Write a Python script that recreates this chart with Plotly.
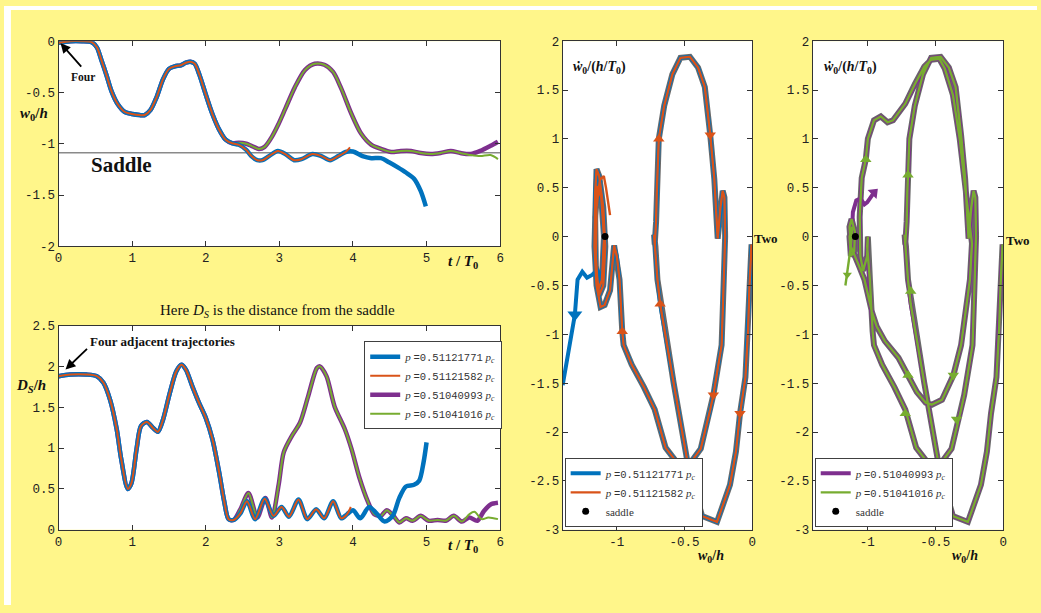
import plotly.graph_objects as go

W, H = 1041, 613
BLUE, ORANGE, PURPLE, GREEN = '#0072BD', '#D95319', '#7E2F8E', '#77AC30'
GRAY = '#6a6a6a'
YELLOW = '#FFF68A'

# ---------------- top-left: w0/h vs t/T0 ----------------
tw_common_t = [0, 0.16, 0.32, 0.45, 0.52, 0.58, 0.65, 0.72, 0.80, 0.90, 1.0, 1.1, 1.17, 1.25, 1.33, 1.42,
               1.50, 1.58, 1.66, 1.73, 1.79, 1.85, 1.91, 2.0, 2.09, 2.18, 2.27, 2.36]
tw_common_w = [-0.016, 0.0, 0.0, -0.01, -0.06, -0.18, -0.33, -0.49, -0.61, -0.69, -0.71, -0.72, -0.72, -0.67,
               -0.55, -0.37, -0.27, -0.245, -0.235, -0.21, -0.2, -0.22, -0.32, -0.52, -0.71, -0.86, -0.96, -0.995]
tw_low_t = [2.45, 2.55, 2.62, 2.70, 2.77, 2.86, 2.98, 3.08, 3.20, 3.30, 3.45, 3.57, 3.69, 3.80, 3.90]
tw_low_w = [-1.01, -1.06, -1.12, -1.16, -1.16, -1.12, -1.07, -1.10, -1.16, -1.15, -1.10, -1.12, -1.16, -1.12, -1.08]
tw_orange_tail_t = [3.96]
tw_orange_tail_w = [-1.035]
tw_blue_tail_t = [4.0, 4.13, 4.25, 4.38, 4.49, 4.61, 4.72, 4.83, 4.92, 4.99]
tw_blue_tail_w = [-1.075, -1.12, -1.14, -1.14, -1.18, -1.23, -1.28, -1.34, -1.46, -1.61]
tw_up_t = [2.45, 2.55, 2.62, 2.72, 2.80, 2.90, 2.98, 3.08, 3.21, 3.35, 3.48, 3.61, 3.73, 3.84, 3.98, 4.11,
           4.25, 4.38, 4.52, 4.65, 4.79, 4.92, 5.06, 5.19, 5.33, 5.46]
tw_up_w = [-0.99, -1.0, -1.02, -1.05, -1.03, -0.93, -0.82, -0.66, -0.45, -0.28, -0.22, -0.23, -0.30, -0.46,
           -0.71, -0.90, -1.01, -1.05, -1.08, -1.07, -1.07, -1.09, -1.10, -1.09, -1.07, -1.09]
tw_purple_tail_t = [5.6, 5.73, 5.87, 5.97]
tw_purple_tail_w = [-1.10, -1.07, -1.02, -0.98]
tw_green_tail_t = [5.6, 5.73, 5.87, 5.97]
tw_green_tail_w = [-1.11, -1.12, -1.11, -1.15]
saddle_w = -1.087
saddle_v = 0.0

# ---------------- bottom-left: D_S/h vs t/T0 ----------------
td_common_t = [0, 0.16, 0.38, 0.52, 0.61, 0.70, 0.79, 0.85, 0.94, 0.99, 1.06, 1.12, 1.20, 1.28, 1.35, 1.42,
               1.51, 1.60, 1.67, 1.73, 1.82, 1.91, 2.0, 2.09, 2.18, 2.25, 2.31, 2.38]
td_common_d = [1.88, 1.90, 1.90, 1.88, 1.80, 1.59, 1.23, 0.87, 0.50, 0.57, 0.99, 1.27, 1.32, 1.25, 1.20, 1.35,
               1.67, 1.94, 2.02, 1.96, 1.75, 1.55, 1.37, 1.11, 0.71, 0.35, 0.13, 0.12]
td_low_t = [2.47, 2.56, 2.67, 2.80, 2.92, 3.03, 3.13, 3.26, 3.38, 3.50, 3.61, 3.73, 3.84, 3.92]
td_low_d = [0.20, 0.35, 0.13, 0.38, 0.17, 0.28, 0.16, 0.37, 0.13, 0.25, 0.14, 0.35, 0.14, 0.19]
td_orange_tail_t = [3.97]
td_orange_tail_d = [0.28]
td_blue_tail_t = [4.0, 4.1, 4.22, 4.32, 4.43, 4.54, 4.63, 4.72, 4.83, 4.90, 4.96, 5.0]
td_blue_tail_d = [0.24, 0.14, 0.28, 0.20, 0.10, 0.17, 0.39, 0.53, 0.55, 0.60, 0.83, 1.07]
td_up_t = [2.47, 2.58, 2.70, 2.81, 2.90, 2.99, 3.06, 3.17, 3.28, 3.39, 3.51, 3.55, 3.64, 3.75, 3.89, 3.98,
           4.09, 4.20, 4.29, 4.38, 4.46, 4.55, 4.63, 4.72, 4.81, 4.92, 5.03, 5.15, 5.26, 5.37, 5.48]
td_up_d = [0.25, 0.45, 0.15, 0.39, 0.15, 0.55, 0.95, 1.15, 1.31, 1.63, 1.98, 2.0, 1.88, 1.51, 1.23, 0.99,
           0.63, 0.35, 0.19, 0.17, 0.24, 0.17, 0.09, 0.14, 0.11, 0.17, 0.11, 0.12, 0.11, 0.17, 0.10]
td_purple_tail_t = [5.58, 5.69, 5.78, 5.87, 5.97]
td_purple_tail_d = [0.15, 0.11, 0.23, 0.31, 0.33]
td_green_tail_t = [5.58, 5.65, 5.75, 5.84, 5.97]
td_green_tail_d = [0.19, 0.22, 0.13, 0.15, 0.13]

# ---------------- phase portraits ----------------
ph_first_w = [-0.005, -0.02, -0.03, -0.05, -0.09, -0.12, -0.164, -0.26, -0.37, -0.47,
              -0.58, -0.68, -0.70, -0.715, -0.725, -0.72, -0.71, -0.705, -0.69, -0.65,
              -0.59, -0.53, -0.46, -0.40, -0.35, -0.31, -0.28, -0.255, -0.235, -0.218,
              -0.205, -0.20, -0.21, -0.226, -0.287, -0.31, -0.38, -0.48, -0.54, -0.64,
              -0.72, -0.80, -0.89, -0.95, -0.96, -0.98]
ph_first_v = [-0.08, -0.5, -0.94, -1.44, -1.81, -2.2, -2.54, -2.92, -2.86, -2.37,
              -1.5, -0.69, -0.44, -0.1, 0.02, -0.08, 0.15, 0.46, 1.0, 1.34,
              1.66, 1.83, 1.84, 1.73, 1.53, 1.04, 0.59, -0.02, 0.3, 0.47,
              0.4, 0.0, -0.44, -1.11, -1.62, -1.77, -2.17, -2.36, -2.34, -2.16,
              -1.77, -1.54, -1.31, -1.11, -0.97, -0.44]
mid_spiral_w = [-1.00, -1.02, -1.05, -1.09, -1.12, -1.15, -1.165, -1.16, -1.15, -1.13,
                -1.10, -1.085, -1.10, -1.13, -1.155, -1.16, -1.14, -1.115, -1.095, -1.11]
mid_spiral_v = [-0.2, -0.09, -0.55, -0.7, -0.72, -0.5, -0.1, 0.45, 0.69, 0.62,
                0.3, -0.1, -0.5, -0.6, -0.3, 0.2, 0.52, 0.4, 0.0, -0.45]
mid_blue_tail_w = [-1.13, -1.145, -1.18, -1.22, -1.255, -1.29, -1.31, -1.40]
mid_blue_tail_v = [-0.38, -0.34, -0.39, -0.42, -0.36, -0.44, -0.8, -1.52]
mid_orange_tail_w = [-1.14, -1.155, -1.15, -1.125, -1.096, -1.08, -1.05]
mid_orange_tail_v = [-0.55, -0.2, 0.3, 0.58, 0.62, 0.5, 0.22]
mid_arrow_w = [-0.69, -0.31, -0.68, -0.96, -0.287, -0.09]
mid_arrow_v = [1.0, 1.04, -0.69, -0.97, -1.62, -1.81]
mid_arrow_dir = ['triangle-up', 'triangle-down', 'triangle-up', 'triangle-up', 'triangle-down', 'triangle-down']
mid_blue_arrow_w = [-1.31]
mid_blue_arrow_v = [-0.8]

right_branch_w = [-1.0, -0.995, -1.0, -1.03, -1.05, -1.055, -1.04, -1.01, -0.995, -0.95,
                  -0.90, -0.85, -0.81, -0.72, -0.65, -0.58, -0.53, -0.47, -0.43, -0.37,
                  -0.32, -0.28, -0.24, -0.23, -0.245, -0.31, -0.367, -0.45, -0.525, -0.57,
                  -0.635, -0.70, -0.77, -0.87, -0.93, -0.965, -1.02, -1.06, -1.09, -1.12,
                  -1.13, -1.115, -1.09, -1.095, -1.12, -1.13, -1.11]
right_branch_v = [-0.1, 0.0, -0.2, -0.35, -0.2, 0.2, 0.6, 0.79, 1.0, 1.19,
                  1.23, 1.17, 1.19, 1.36, 1.56, 1.74, 1.81, 1.82, 1.72, 1.45,
                  1.0, 0.5, 0.0, -0.07, -0.44, -1.11, -1.42, -1.67, -1.72, -1.70,
                  -1.59, -1.42, -1.24, -1.07, -0.92, -0.77, -0.44, -0.3, -0.2, -0.1,
                  0.1, 0.18, 0.05, -0.15, -0.2, 0.0, 0.1]
right_purple_tail_w = [-1.105, -1.08, -1.05, -1.02, -1.0, -0.95]
right_purple_tail_v = [0.25, 0.37, 0.39, 0.33, 0.35, 0.45]
right_green_tail_w = [-1.12, -1.135, -1.146, -1.16]
right_green_tail_v = [-0.1, -0.25, -0.39, -0.5]
right_arrow_w = [-1.01, -0.70, -0.68, -0.70, -0.72, -0.367, -0.343]
right_arrow_v = [0.79, 0.63, -0.56, -1.42, -1.81, -1.42, -1.87]
right_arrow_dir = ['triangle-up'] * 5 + ['triangle-down'] * 2
right_green_arrow_w = [-1.146]
right_green_arrow_v = [-0.39]
right_purple_arrow_w = [-0.95]
right_purple_arrow_v = [0.45]

# ---------------- ticks ----------------
ts_x_ticks = [0, 1, 2, 3, 4, 5, 6]
tw_y_ticks = [0, -0.5, -1, -1.5, -2]
tw_y_text = ['0', '-0.5', '-1', '-1.5', '-2']
td_y_ticks = [0, 0.5, 1, 1.5, 2, 2.5]
td_y_text = ['0', '0.5', '1', '1.5', '2', '2.5']
ph_x_ticks = [-1, -0.5, 0]
ph_x_text = ['-1', '-0.5', '0']
ph_y_ticks = [2, 1.5, 1, 0.5, 0, -0.5, -1, -1.5, -2, -2.5, -3]
ph_y_text = ['2', '1.5', '1', '0.5', '0', '-0.5', '-1', '-1.5', '-2', '-2.5', '-3']

MONO = '<span style="font-family:Liberation Mono;font-size:10.5px">'
labels = {
    'blue': '<i>p</i> ' + MONO + '=0.51121771</span> <i>p</i><sub><i>c</i></sub>',
    'orange': '<i>p</i> ' + MONO + '=0.51121582</span> <i>p</i><sub><i>c</i></sub>',
    'purple': '<i>p</i> ' + MONO + '=0.51040993</span> <i>p</i><sub><i>c</i></sub>',
    'green': '<i>p</i> ' + MONO + '=0.51041016</span> <i>p</i><sub><i>c</i></sub>',
}


def px(x):
    return x / W


def py(y):
    return 1 - y / H


fig = go.Figure()


def add_line(x, y, color, width, xa, ya, shape='linear', name=None, legend='legend', show=False, rank=1000):
    fig.add_trace(go.Scatter(
        x=x, y=y, mode='lines', xaxis=xa, yaxis=ya,
        line=dict(color=color, width=width, shape=shape, smoothing=0.8 if shape == 'spline' else None),
        name=name, legend=legend, showlegend=show, legendrank=rank, hoverinfo='skip'))


# top-left
add_line(tw_common_t + tw_up_t + tw_purple_tail_t, tw_common_w + tw_up_w + tw_purple_tail_w, PURPLE, 4.5, 'x', 'y', 'spline')
add_line(tw_common_t + tw_up_t + tw_green_tail_t, tw_common_w + tw_up_w + tw_green_tail_w, GREEN, 2, 'x', 'y', 'spline')
add_line(tw_common_t + tw_low_t + tw_blue_tail_t, tw_common_w + tw_low_w + tw_blue_tail_w, BLUE, 4.5, 'x', 'y', 'spline')
add_line(tw_common_t + tw_low_t + tw_orange_tail_t, tw_common_w + tw_low_w + tw_orange_tail_w, ORANGE, 2, 'x', 'y', 'spline')

# bottom-left
add_line(td_common_t + td_up_t + td_purple_tail_t, td_common_d + td_up_d + td_purple_tail_d, PURPLE, 4.5, 'x2', 'y2', 'spline',
         labels['purple'], 'legend', True, 3)
add_line(td_common_t + td_up_t + td_green_tail_t, td_common_d + td_up_d + td_green_tail_d, GREEN, 2, 'x2', 'y2', 'spline',
         labels['green'], 'legend', True, 4)
add_line(td_common_t + td_low_t + td_blue_tail_t, td_common_d + td_low_d + td_blue_tail_d, BLUE, 4.5, 'x2', 'y2', 'spline',
         labels['blue'], 'legend', True, 1)
add_line(td_common_t + td_low_t + td_orange_tail_t, td_common_d + td_low_d + td_orange_tail_d, ORANGE, 2, 'x2', 'y2', 'spline',
         labels['orange'], 'legend', True, 2)

# middle phase portrait
add_line(ph_first_w + mid_spiral_w, ph_first_v + mid_spiral_v, GRAY, 6, 'x3', 'y3')
add_line(ph_first_w + mid_spiral_w + mid_blue_tail_w, ph_first_v + mid_spiral_v + mid_blue_tail_v, BLUE, 4, 'x3', 'y3',
         name=labels['blue'], legend='legend2', show=True, rank=1)
add_line(ph_first_w + mid_spiral_w + mid_orange_tail_w, ph_first_v + mid_spiral_v + mid_orange_tail_v, ORANGE, 2.4, 'x3', 'y3',
         name=labels['orange'], legend='legend2', show=True, rank=2)
fig.add_trace(go.Scatter(x=mid_arrow_w, y=mid_arrow_v, mode='markers', xaxis='x3', yaxis='y3',
                         marker=dict(symbol=mid_arrow_dir, size=10, color=ORANGE), showlegend=False, hoverinfo='skip'))
fig.add_trace(go.Scatter(x=mid_blue_arrow_w, y=mid_blue_arrow_v, mode='markers', xaxis='x3', yaxis='y3',
                         marker=dict(symbol='triangle-down', size=13, color=BLUE), showlegend=False, hoverinfo='skip'))
fig.add_trace(go.Scatter(x=[saddle_w], y=[saddle_v], mode='markers', xaxis='x3', yaxis='y3', name='saddle',
                         legend='legend2', legendrank=3,
                         marker=dict(symbol='circle', size=7, color='black'), hoverinfo='skip'))

# right phase portrait
add_line(ph_first_w + right_branch_w, ph_first_v + right_branch_v, GRAY, 6, 'x4', 'y4')
add_line(ph_first_w + right_branch_w + right_purple_tail_w, ph_first_v + right_branch_v + right_purple_tail_v, PURPLE, 4,
         'x4', 'y4', name=labels['purple'], legend='legend3', show=True, rank=1)
add_line(ph_first_w + right_branch_w + right_green_tail_w, ph_first_v + right_branch_v + right_green_tail_v, GREEN, 2.4,
         'x4', 'y4', name=labels['green'], legend='legend3', show=True, rank=2)
fig.add_trace(go.Scatter(x=right_arrow_w, y=right_arrow_v, mode='markers', xaxis='x4', yaxis='y4',
                         marker=dict(symbol=right_arrow_dir, size=10, color=GREEN), showlegend=False, hoverinfo='skip'))
fig.add_trace(go.Scatter(x=right_green_arrow_w, y=right_green_arrow_v, mode='markers', xaxis='x4', yaxis='y4',
                         marker=dict(symbol='triangle-down', size=8, color=GREEN), showlegend=False, hoverinfo='skip'))
fig.add_trace(go.Scatter(x=right_purple_arrow_w, y=right_purple_arrow_v, mode='markers', xaxis='x4', yaxis='y4',
                         marker=dict(symbol='triangle-up', angle=45, size=11, color=PURPLE), showlegend=False, hoverinfo='skip'))
fig.add_trace(go.Scatter(x=[saddle_w], y=[saddle_v], mode='markers', xaxis='x4', yaxis='y4', name='saddle',
                         legend='legend3', legendrank=3,
                         marker=dict(symbol='circle', size=7, color='black'), hoverinfo='skip'))


def axis(**kw):
    d = dict(showline=True, linecolor='#333333', linewidth=1, mirror='ticks', ticks='inside', ticklen=5,
             tickcolor='#333333', showgrid=False, zeroline=False, fixedrange=True,
             tickfont=dict(family='Liberation Mono', size=12.5, color='#222222'))
    d.update(kw)
    return d


def legend_box(x, y, anchor='top'):
    return dict(x=px(x), y=py(y), xanchor='left', yanchor=anchor, bgcolor='white', bordercolor='#404040',
                borderwidth=1, font=dict(family='Liberation Serif', size=11, color='#333333'),
                tracegroupgap=0, itemwidth=30, itemclick=False, itemdoubleclick=False)


fig.update_layout(
    width=W, height=H, autosize=False, margin=dict(l=0, r=0, t=0, b=0),
    paper_bgcolor=YELLOW, plot_bgcolor='white', hovermode=False,
    xaxis=axis(domain=[px(55), px(500)], range=[0, 6], tickvals=ts_x_ticks, anchor='y'),
    yaxis=axis(domain=[py(246), py(36)], range=[-2, 0], tickvals=tw_y_ticks, ticktext=tw_y_text, anchor='x'),
    xaxis2=axis(domain=[px(55), px(500)], range=[0, 6], tickvals=ts_x_ticks, anchor='y2'),
    yaxis2=axis(domain=[py(536), py(327)], range=[0, 2.5], tickvals=td_y_ticks, ticktext=td_y_text, anchor='x2'),
    xaxis3=axis(domain=[px(563), px(754)], range=[-1.4, 0], tickvals=ph_x_ticks, ticktext=ph_x_text, anchor='y3'),
    yaxis3=axis(domain=[py(536), py(36)], range=[-3, 2], tickvals=ph_y_ticks, ticktext=ph_y_text, anchor='x3'),
    xaxis4=axis(domain=[px(815), px(1007)], range=[-1.4, 0], tickvals=ph_x_ticks, ticktext=ph_x_text, anchor='y4'),
    yaxis4=axis(domain=[py(536), py(36)], range=[-3, 2], tickvals=ph_y_ticks, ticktext=ph_y_text, anchor='x4'),
    legend=legend_box(363, 343),
    legend2=legend_box(565, 533, 'bottom'),
    legend3=legend_box(817, 533, 'bottom'),
)

# saddle line on top-left panel
fig.add_shape(type='line', xref='x domain', yref='y', x0=0, x1=1, y0=saddle_w, y1=saddle_w,
              line=dict(color='#8a8a8a', width=1.5), layer='below')
# white page margins
fig.add_shape(type='rect', xref='paper', yref='paper', x0=0, x1=px(7), y0=0, y1=1,
              fillcolor='white', line=dict(width=0), layer='below')
fig.add_shape(type='rect', xref='paper', yref='paper', x0=0, x1=1, y0=py(4), y1=1,
              fillcolor='white', line=dict(width=0), layer='below')

SERIF = 'Liberation Serif'


def text(x, y, t, size, **kw):
    fig.add_annotation(x=px(x), y=py(y), xref='paper', yref='paper', text=t, showarrow=False,
                       font=dict(family=SERIF, size=size, color='#111111'), xanchor='center', yanchor='middle', **kw)


def arrow(tail, head):
    fig.add_annotation(x=px(head[0]), y=py(head[1]), xref='paper', yref='paper', text='', showarrow=True,
                       ax=tail[0] - head[0], ay=tail[1] - head[1], arrowhead=2, arrowsize=1.1, arrowwidth=1.8,
                       arrowcolor='black', standoff=0)


WH = '<b><i>w</i><sub>0</sub>/<i>h</i></b>'
TT = '<b><i>t</i> / <i>T</i><sub>0</sub></b>'
WD = '<b><i>ẇ</i><sub>0</sub>/(<i>h</i>/<i>T</i><sub>0</sub>)</b>'

text(30, 111, WH, 15)
text(463, 262, TT, 15)
text(118, 163, '<b>Saddle</b>', 21)
text(80, 73, '<b>Four</b>', 11.5)
arrow((79, 63), (57, 38))

text(276, 312, 'Here <i>D<sub>S</sub></i> is the distance from the saddle', 15)
text(27, 389, '<b><i>D<sub>S</sub></i>/<i>h</i></b>', 15)
text(463, 553, TT, 15)
text(160, 343, '<b>Four adjacent trajectories</b>', 13)
arrow((85, 350), (62, 372))

text(600, 63, WD, 14)
text(768, 238, '<b>Two</b>', 13)
text(712, 563, WH, 14)

text(853, 63, WD, 14)
text(1022, 240, '<b>Two</b>', 13)
text(968, 563, WH, 14)

POST = ("document.body.style.margin='0';document.documentElement.style.overflow='hidden';"
        "document.body.style.overflow='hidden';var d=document.getElementById('{plot_id}');"
        "d.style.position='fixed';d.style.left='0px';d.style.top='0px';")
fig.write_html('out.html', config={'displayModeBar': False, 'responsive': False}, post_script=POST)
